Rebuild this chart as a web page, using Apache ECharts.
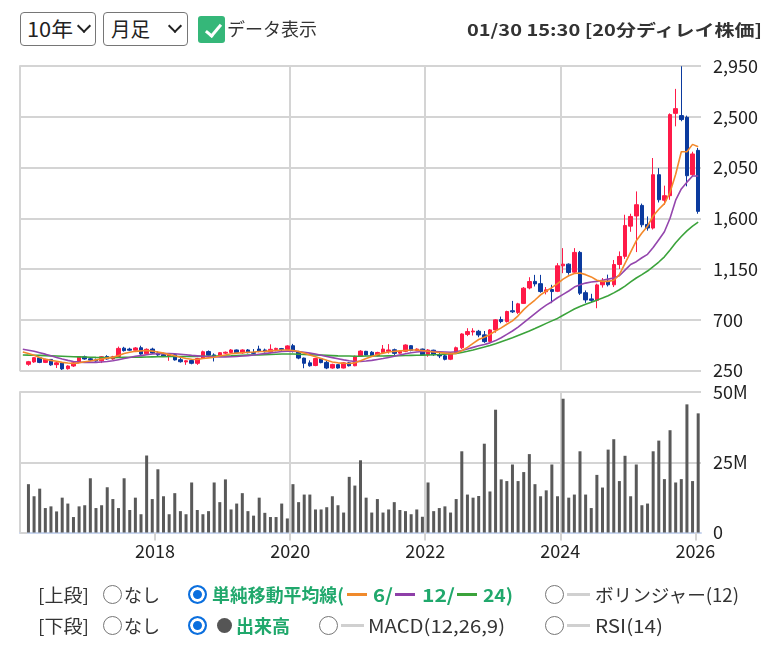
<!DOCTYPE html>
<html><head><meta charset="utf-8">
<script src="https://cdn.jsdelivr.net/npm/echarts@6/dist/echarts.min.js"></script>
<style>
html,body{margin:0;padding:0;background:#fff;}
body{width:781px;height:647px;position:relative;overflow:hidden;font-family:"Noto Sans CJK JP","Noto Sans",sans-serif;color:#333;}
#chart{position:absolute;left:0;top:0;width:781px;height:647px;}
.sel{position:absolute;border:1px solid #767676;border-radius:4px;box-sizing:border-box;height:34px;top:12px;background:#fff;}
.chev{position:absolute;width:8px;height:8px;border-right:2px solid #222;border-bottom:2px solid #222;transform:rotate(45deg);}
.chk{position:absolute;left:198px;top:16px;width:27px;height:27px;background:#35b779;border-radius:3px;}
.chkmark{position:absolute;left:209px;top:21px;width:6px;height:13px;border-right:3px solid #fff;border-bottom:3px solid #fff;transform:rotate(40deg);}
.radio{position:absolute;width:19px;height:19px;border-radius:50%;box-sizing:border-box;border:1.5px solid #767676;background:#fff;}
.radio.on{border:2px solid #0b6fde;background:#0b6fde;box-shadow:inset 0 0 0 3px #fff;}
.dot{position:absolute;width:15px;height:15px;border-radius:50%;background:#555;}
.dash{position:absolute;height:2.5px;width:20px;}
.txt{position:absolute;white-space:nowrap;font-size:18px;line-height:20px;transform-origin:0 50%;color:#333;}
.g{color:#20a86c;font-weight:bold;}
</style></head><body>
<div id="chart"></div>

<div class="sel" style="left:20px;width:76px;"></div>
<div class="txt" style="left:27px;top:17px;font-size:20px;line-height:24px;color:#222" data-w="46">10年</div>
<div class="chev" style="left:79px;top:21px"></div>
<div class="sel" style="left:103px;width:85px;"></div>
<div class="txt" style="left:111px;top:17px;font-size:20px;line-height:24px;color:#222" data-w="39">月足</div>
<div class="chev" style="left:170px;top:21px"></div>
<div class="chk"></div><div class="chkmark"></div>
<div class="txt" style="left:227px;top:18px;" data-w="90">データ表示</div>
<div class="txt" style="left:467px;top:19px;font-size:16px;font-weight:bold;" data-w="295">01/30 15:30 [20分ディレイ株価]</div>

<div class="txt" style="left:38px;top:584px;" data-w="51">[上段]</div>
<div class="radio" style="left:103px;top:585px;"></div>
<div class="txt" style="left:124px;top:584px;" data-w="36">なし</div>
<div class="radio on" style="left:188px;top:585px;"></div>
<div class="txt g" style="left:212px;top:584px;" data-w="132">単純移動平均線(</div>
<div class="dash" style="left:347px;top:593px;background:#f08a2c;"></div>
<div class="txt g" style="left:373px;top:584px;" data-w="20">6/</div>
<div class="dash" style="left:395px;top:593px;background:#8e3fa8;"></div>
<div class="txt g" style="left:422px;top:584px;" data-w="33">12/</div>
<div class="dash" style="left:457px;top:593px;background:#3ba33b;"></div>
<div class="txt g" style="left:483px;top:584px;" data-w="30">24)</div>
<div class="radio" style="left:545px;top:585px;"></div>
<div class="dash" style="left:567px;top:593px;width:23px;background:#d0d0d0;"></div>
<div class="txt" style="left:595px;top:584px;" data-w="144">ボリンジャー(12)</div>

<div class="txt" style="left:38px;top:615px;" data-w="51">[下段]</div>
<div class="radio" style="left:103px;top:616px;"></div>
<div class="txt" style="left:124px;top:615px;" data-w="36">なし</div>
<div class="radio on" style="left:188px;top:616px;"></div>
<div class="dot" style="left:217px;top:618px;"></div>
<div class="txt g" style="left:236px;top:615px;" data-w="54">出来高</div>
<div class="radio" style="left:319px;top:616px;"></div>
<div class="dash" style="left:341px;top:624px;width:23px;background:#d0d0d0;"></div>
<div class="txt" style="left:368px;top:615px;" data-w="137">MACD(12,26,9)</div>
<div class="radio" style="left:545px;top:616px;"></div>
<div class="dash" style="left:567px;top:624px;width:23px;background:#d0d0d0;"></div>
<div class="txt" style="left:595px;top:615px;" data-w="68">RSI(14)</div>

<script>
// Month index 0 = 2016-01 ... 120 = 2026-01. Candles exist for months 1..120.
const yearTicks = [24, 48, 72, 96, 120];
const yearLabels = ['2018', '2020', '2022', '2024', '2026'];

const openP = [305,326,362,322,348,302,316,266,290,320,
372,354,344,336,374,352,374,448,440,430,
452,398,440,406,390,376,390,346,326,338,
314,358,418,388,374,404,410,432,406,432,
410,440,432,416,436,444,436,470,418,360,
318,294,354,322,272,302,272,318,292,378,
420,412,382,408,420,434,404,420,470,428,
440,390,430,392,380,350,402,452,570,592,
598,566,508,610,702,684,780,765,845,982,
1040,1020,948,968,952,1178,1193,1122,1297,940,
885,872,1010,1042,1010,1190,1262,1530,1620,1714,
1545,1513,1986,1760,1800,2530,2510,2495,1986,2202];

const closeP = [328,364,322,349,300,318,264,290,318,372,
352,342,334,372,352,372,446,426,430,450,
396,438,405,388,378,390,344,328,336,314,
356,416,386,372,408,412,432,408,432,408,
402,418,416,438,446,436,468,418,360,314,
292,356,320,272,304,272,318,292,376,422,
388,380,410,440,432,402,420,476,428,440,
390,432,390,379,349,400,452,574,595,600,
565,506,610,699,684,773,770,841,980,1039,
1018,950,965,950,1178,1193,1119,1297,935,876,
872,1009,1040,1010,1190,1261,1536,1616,1720,1542,
1513,1986,1764,1800,2519,2572,2475,1977,2170,1661];

const lowP = [292,318,315,316,292,272,255,258,282,316,
346,336,328,316,346,345,370,418,424,426,
390,392,398,380,372,336,338,320,300,305,
300,352,380,330,370,396,404,400,398,402,
396,412,410,402,420,420,430,410,350,270,
284,288,314,262,266,266,268,286,288,372,
382,374,376,396,400,388,398,412,420,422,
384,372,380,360,340,342,396,440,555,560,
545,495,500,585,669,675,760,750,840,970,
995,940,925,847,945,1113,1100,1115,920,850,
855,802,985,995,990,1150,1240,1480,1300,1520,
1490,1500,1740,1720,1764,2415,2460,1883,1970,1640];

const highP = [335,370,366,355,352,326,320,296,330,378,
382,362,356,378,386,380,462,460,452,458,
470,446,452,420,408,402,394,362,342,348,
362,426,428,402,414,418,440,436,438,440,
440,470,444,482,452,450,474,486,424,364,
340,362,358,334,310,306,324,326,382,430,
424,422,416,476,484,444,426,482,474,446,
444,440,434,418,395,405,462,580,625,625,
610,600,618,705,728,780,867,850,990,1077,
1098,1098,990,1010,1202,1335,1200,1335,1310,960,
930,1020,1070,1100,1230,1306,1631,1640,1838,1730,
1616,2134,2045,1889,2530,2747,2948,2510,2190,2223];

// Monthly volume, millions of shares (months 1..120)
const volumeM = [17.2,12.9,15.6,8.7,9.3,7.5,12.4,10.3,5.5,9.3,
9.7,19.3,8.7,9.7,16.1,11.9,8.7,19.3,8.0,12.4,
6.5,27.4,11.9,22.5,12.9,6.5,14.0,7.6,6.5,17.8,
8.0,6.5,7.6,17.8,10.8,18.9,8.2,10.3,14.0,7.6,
6.0,12.4,7.0,5.5,5.5,10.3,5.0,17.2,10.8,13.5,
13.5,8.2,8.2,9.0,12.9,9.7,7.1,19.8,16.7,25.7,
12.4,7.1,11.9,7.1,8.2,10.8,8.0,7.6,6.5,8.2,
5.6,17.8,7.6,8.7,9.3,7.1,11.9,28.9,13.5,12.4,
13.0,31.6,14.6,43.7,18.9,18.3,24.2,18.3,21.5,27.9,
17.2,12.9,15.0,24.2,12.9,47.6,12.4,13.5,28.9,13.5,
8.7,20.5,16.0,29.5,33.2,18.3,27.3,12.9,24.2,9.7,
10.3,28.9,32.7,19.0,36.4,17.8,19.0,45.6,18.3,42.4];

// Moving averages (months 0..120)
const ma6 = [415,400,385,365,350,340,332,322,316,312,
318,328,334,344,352,360,368,382,400,412,
420,424,428,422,414,404,392,380,368,356,
350,348,356,362,368,378,388,398,404,408,
412,414,418,420,424,428,432,432,428,418,
404,388,372,356,340,326,318,314,312,318,
336,356,374,392,404,414,420,424,428,432,
432,426,420,414,410,404,400,402,425,455,
490,525,545,570,600,628,660,690,735,790,
835,875,920,955,985,1020,1060,1090,1110,1115,
1100,1080,1050,1040,1040,1050,1100,1200,1300,1400,
1470,1530,1620,1680,1730,1830,1990,2190,2190,2255,2235];

const ma12 = [438,430,420,408,395,380,366,352,340,330,
324,322,322,322,326,330,336,346,356,366,
376,382,390,396,398,400,400,398,394,390,
384,380,376,374,372,370,370,372,374,378,
382,388,394,400,406,412,418,422,422,418,
412,404,396,386,374,364,354,344,336,330,
330,334,340,348,356,366,376,388,398,408,
414,418,420,418,416,414,412,416,428,440,
455,470,480,495,515,540,570,600,635,675,
715,755,795,830,860,895,925,955,990,1010,
1025,1035,1040,1050,1060,1070,1090,1140,1190,1215,
1250,1280,1340,1410,1480,1600,1760,1860,1920,1975,1975];

const ma24 = [388,386,385,384,382,380,378,376,374,372,
371,370,368,366,365,364,364,365,366,367,
368,369,370,371,372,373,374,374,374,374,
374,375,376,377,378,378,379,380,382,384,
386,387,388,390,392,394,396,396,396,394,
392,390,388,386,384,382,380,379,378,377,
377,378,378,378,379,380,381,382,383,384,
385,386,388,390,392,395,398,402,410,420,
432,445,458,472,488,505,522,540,560,580,
600,622,645,668,690,712,740,768,795,818,
838,856,874,893,913,938,966,998,1035,1070,
1100,1132,1172,1212,1258,1318,1382,1438,1488,1530,1565];

const FONT = '"Noto Sans CJK JP","Noto Sans",sans-serif';
const GRID_C = '#d4d4d4';

const candleData = openP.map((o, k) => [k + 1.5, o, closeP[k], lowP[k], highP[k]]);
const volData = volumeM.map((v, k) => [k + 1.5, v * 1e6]);
const lineData = arr => arr.map((v, i) => [i + 0.5, v]);

const xLabel = v => { const j = yearTicks.indexOf(v); return j >= 0 ? yearLabels[j] : ''; };

const chart = echarts.init(document.getElementById('chart'));
chart.setOption({
  animation: false,
  grid: [
    {left: 20, right: 80, top: 66, height: 304.5},
    {left: 20, right: 80, top: 392, height: 140.5}
  ],
  xAxis: [
    {type: 'value', gridIndex: 0, min: 0, max: 121, interval: 24,
     axisLine: {show: false}, axisTick: {show: false, customValues: yearTicks},
     axisLabel: {show: false, customValues: yearTicks},
     splitLine: {show: true, showMinLine: false, showMaxLine: false, lineStyle: {color: GRID_C, width: 2}}},
    {type: 'value', gridIndex: 1, min: 0, max: 121, interval: 24,
     axisLine: {show: true, onZero: false, lineStyle: {color: '#c8d5ee', width: 2}},
     axisTick: {show: true, length: 8, customValues: yearTicks, lineStyle: {color: GRID_C, width: 2}},
     axisLabel: {customValues: yearTicks, formatter: xLabel, fontSize: 18, color: '#222', margin: 10, fontFamily: FONT},
     splitLine: {show: true, showMinLine: false, showMaxLine: false, lineStyle: {color: GRID_C, width: 2}}}
  ],
  yAxis: [
    {type: 'value', gridIndex: 0, position: 'right', min: 250, max: 2950, interval: 450,
     axisLine: {show: true, lineStyle: {color: GRID_C, width: 2}},
     axisTick: {show: true, length: 7, lineStyle: {color: GRID_C, width: 2}},
     axisLabel: {margin: 12, fontSize: 18, color: '#222', fontFamily: FONT,
                 formatter: v => v.toLocaleString('en-US')},
     splitLine: {show: true, lineStyle: {color: GRID_C, width: 2}}},
    {type: 'value', gridIndex: 1, position: 'right', min: 0, max: 50000000, interval: 25000000,
     axisLine: {show: true, lineStyle: {color: GRID_C, width: 2}},
     axisTick: {show: true, length: 7, lineStyle: {color: GRID_C, width: 2}},
     axisLabel: {margin: 12, fontSize: 18, color: '#222', fontFamily: FONT,
                 formatter: v => v === 0 ? '0' : (v / 1e6) + 'M'},
     splitLine: {show: true, lineStyle: {color: GRID_C, width: 2}}}
  ],
  series: [
    {type: 'candlestick', xAxisIndex: 0, yAxisIndex: 0, data: candleData,
     encode: {x: 0, y: [1, 2, 3, 4]}, barWidth: 4,
     itemStyle: {color: '#ff1a48', color0: '#0b3a9e', borderColor: '#ff1a48', borderColor0: '#0b3a9e', borderWidth: 1}},
    {type: 'line', xAxisIndex: 0, yAxisIndex: 0, data: lineData(ma24), showSymbol: false,
     lineStyle: {color: '#3ba33b', width: 1.6}},
    {type: 'line', xAxisIndex: 0, yAxisIndex: 0, data: lineData(ma12), showSymbol: false,
     lineStyle: {color: '#9446ad', width: 1.6}},
    {type: 'line', xAxisIndex: 0, yAxisIndex: 0, data: lineData(ma6), showSymbol: false,
     lineStyle: {color: '#f3892b', width: 1.6}},
    {type: 'bar', xAxisIndex: 1, yAxisIndex: 1, data: volData, barWidth: 3,
     itemStyle: {color: '#595959'}}
  ]
});

document.querySelectorAll('[data-w]').forEach(el => {
  const w = el.getBoundingClientRect().width;
  const target = +el.dataset.w;
  if (w > 0) el.style.transform = 'scaleX(' + (target / w).toFixed(3) + ')';
});
</script>
</body></html>
